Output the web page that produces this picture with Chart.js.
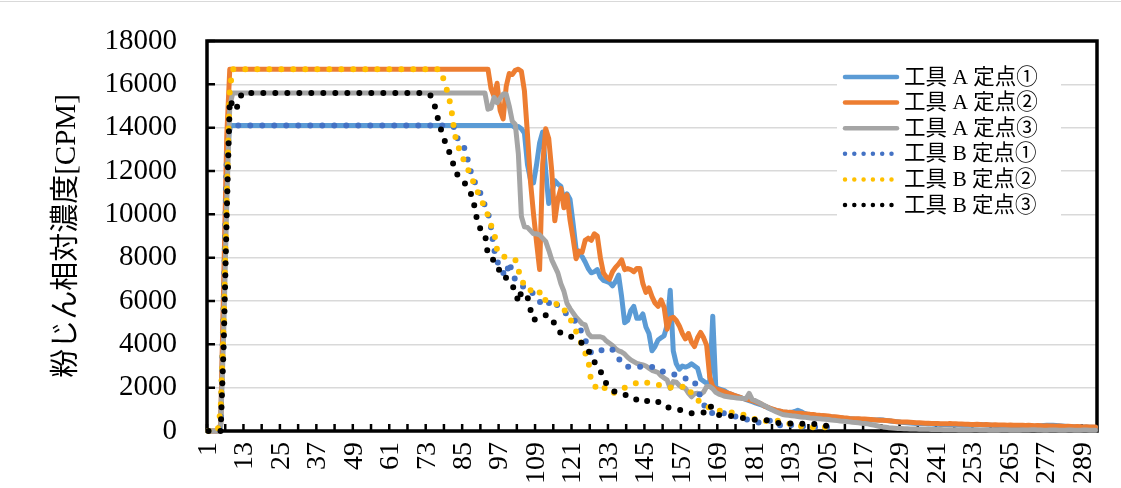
<!DOCTYPE html>
<html><head><meta charset="utf-8">
<script src="https://cdn.jsdelivr.net/npm/chart.js@4.4.1/dist/chart.umd.min.js"></script>
<style>
html,body{margin:0;padding:0;background:#fff;}
#wrap{position:relative;width:1121px;height:488px;overflow:hidden;background:#fff;}
#topline{position:absolute;left:0;top:1px;width:1121px;height:0;border-top:1.5px solid #d9d9d9;}
canvas{position:absolute;left:0;top:0;}
</style></head><body>
<div id="wrap"><canvas id="c" width="1121" height="488"></canvas><div id="topline"></div></div>
<script>
// ---- data ----
const categories = [];
for (let i = 1; i <= 293; i++) categories.push(String(i));
const xTickLabels = ['1','13','25','37','49','61','73','85','97','109','121','133','145','157','169','181','193','205','217','229','241','253','265','277','289'];
const yMin = 0, yMax = 18000, yStep = 2000;
const yTitle = '粉じん相対濃度[CPM]';
const seriesNames = ['工具 A 定点①','工具 A 定点②','工具 A 定点③','工具 B 定点①','工具 B 定点②','工具 B 定点③'];

const toolA1 = [
0,0,0,0,300,6000,12500,14100,14100,14100,
14100,14100,14100,14100,14100,14100,14100,14100,14100,14100,
14100,14100,14100,14100,14100,14100,14100,14100,14100,14100,
14100,14100,14100,14100,14100,14100,14100,14100,14100,14100,
14100,14100,14100,14100,14100,14100,14100,14100,14100,14100,
14100,14100,14100,14100,14100,14100,14100,14100,14100,14100,
14100,14100,14100,14100,14100,14100,14100,14100,14100,14100,
14100,14100,14100,14100,14100,14100,14100,14100,14100,14100,
14100,14100,14100,14100,14100,14100,14100,14100,14100,14100,
14100,14100,14100,14100,14100,14100,14100,14100,14100,14100,
14100,14000,14050,13950,13750,12300,11600,11450,12300,13300,
13800,12000,10500,11000,11550,11400,11300,10600,10950,10700,
9600,8400,8200,8050,7800,7500,7300,7350,7450,7100,
6950,6900,6850,6700,6900,7200,6200,5000,5100,5550,
5750,5200,5200,5400,4800,4500,3700,3900,4200,4300,
4400,4900,6500,3700,3100,2850,3000,2950,3000,3100,
3000,2900,2400,2300,2200,2250,5300,2000,1950,1900,
1850,1750,1700,1650,1600,1550,1500,1450,1400,1350,
1300,1250,1200,1150,1080,1020,980,940,910,880,
860,850,860,900,960,900,820,780,760,740,
720,700,690,680,660,650,640,620,600,590,
570,560,550,540,540,530,530,520,520,510,
510,520,510,490,470,450,440,420,400,390,
380,370,360,350,340,330,330,320,320,310,
310,300,300,300,290,290,280,280,270,260,
260,270,280,290,300,290,280,270,260,250,
250,240,240,230,230,220,220,210,210,200,
200,210,220,230,240,250,260,270,260,250,
240,230,220,210,200,200,190,190,180,180,
170,170,160];

const toolA2 = [
0,0,0,0,300,6900,13600,16700,16700,16700,
16700,16700,16700,16700,16700,16700,16700,16700,16700,16700,
16700,16700,16700,16700,16700,16700,16700,16700,16700,16700,
16700,16700,16700,16700,16700,16700,16700,16700,16700,16700,
16700,16700,16700,16700,16700,16700,16700,16700,16700,16700,
16700,16700,16700,16700,16700,16700,16700,16700,16700,16700,
16700,16700,16700,16700,16700,16700,16700,16700,16700,16700,
16700,16700,16700,16700,16700,16700,16700,16700,16700,16700,
16700,16700,16700,16700,16700,16700,16700,16700,16700,16700,
16700,16700,16700,15800,15450,16050,14800,14400,15900,16500,
16450,16650,16700,16600,15700,13700,11500,10000,8700,7450,
12300,13950,13500,12000,9700,10700,11200,10300,10900,9750,
8900,7950,8300,8250,8800,8900,8800,9100,9000,8000,
7300,7100,7000,7350,7550,7700,7900,7450,7500,7450,
7350,7500,7500,6800,6400,6600,6200,5900,5750,6050,
5700,4700,5200,5250,5100,4850,4500,4250,4500,4100,
3900,4300,4550,4300,3950,2500,2050,1950,1900,1850,
1800,1750,1700,1650,1600,1550,1500,1480,1440,1400,
1350,1300,1250,1150,1100,1050,1000,950,920,890,
880,860,850,830,820,820,800,790,770,760,
740,730,710,700,690,670,660,650,630,610,
600,580,570,560,560,550,550,540,530,520,
510,500,500,480,470,460,440,430,420,420,
410,400,390,380,380,370,360,360,350,350,
350,340,340,330,350,340,330,320,320,310,
310,300,300,310,300,290,300,290,280,290,
280,280,280,270,280,270,260,270,260,250,
260,250,240,250,240,230,240,230,230,220,
230,220,210,220,210,200,210,200,190,200,
190,180,180];

const toolA3 = [
0,0,0,0,200,4500,10500,15000,15600,15600,
15600,15600,15600,15600,15600,15600,15600,15600,15600,15600,
15600,15600,15600,15600,15600,15600,15600,15600,15600,15600,
15600,15600,15600,15600,15600,15600,15600,15600,15600,15600,
15600,15600,15600,15600,15600,15600,15600,15600,15600,15600,
15600,15600,15600,15600,15600,15600,15600,15600,15600,15600,
15600,15600,15600,15600,15600,15600,15600,15600,15600,15600,
15600,15600,15600,15600,15600,15600,15600,15600,15600,15600,
15600,15600,15600,15600,15600,15600,15600,15600,15600,15600,
15600,15600,14850,14900,15400,15150,15350,15550,15550,15000,
14300,14150,12800,9900,9430,9400,9250,9100,9100,9050,
8900,8750,8350,7900,7600,7300,6800,6450,5900,5650,
5450,5250,5100,4950,4900,4500,4350,4350,4350,4350,
4300,4150,4050,3950,3800,3700,3650,3550,3400,3280,
3200,3120,3080,3050,3000,2900,2800,2750,2700,2550,
2450,2350,1970,2280,2250,2100,2000,1970,1750,1580,
1720,1740,1700,1800,2050,2050,1950,1780,1700,1650,
1600,1580,1560,1540,1520,1510,1500,1500,1740,1450,
1400,1330,1250,1180,1100,1020,950,880,820,760,
740,720,700,690,670,650,640,620,600,590,
580,570,550,540,530,510,500,480,460,450,
440,420,400,390,380,360,350,330,300,270,
240,210,190,170,150,140,130,120,110,100,
100,90,90,90,80,80,80,80,70,70,
70,70,60,60,60,60,60,50,50,50,
50,50,60,60,50,50,50,40,40,40,
40,50,50,50,40,40,40,40,50,50,
50,60,60,50,50,40,40,50,50,50,
40,40,40,50,50,40,40,40,50,50,
40,40,40];

const toolB1 = [
0,0,0,0,300,6000,12500,14100,14100,14100,
14100,14100,14100,14100,14100,14100,14100,14100,14100,14100,
14100,14100,14100,14100,14100,14100,14100,14100,14100,14100,
14100,14100,14100,14100,14100,14100,14100,14100,14100,14100,
14100,14100,14100,14100,14100,14100,14100,14100,14100,14100,
14100,14100,14100,14100,14100,14100,14100,14100,14100,14100,
14100,14100,14100,14100,14100,14100,14100,14100,14100,14100,
14100,14100,14100,14100,14100,14100,14100,14100,14100,14100,
14100,14000,13500,13300,13150,12700,12150,11650,11400,11150,
10800,10400,10100,9400,8400,7850,7550,7300,7150,7800,
7300,6970,6900,6700,6650,6600,6500,6300,6050,5970,
5850,5750,5900,6050,6000,5750,5600,5500,5400,5350,
5200,5000,4900,4450,4200,3900,3600,3600,3700,3740,
3700,3780,3820,3750,3500,3350,3150,3000,2970,2960,
2970,2980,2970,2960,2970,2970,2960,2950,2900,2800,
2700,2680,2660,2620,2580,2520,2460,2420,2420,2400,
2300,1850,1600,1250,950,820,840,860,880,850,
800,770,740,700,640,590,560,540,520,500,
450,400,360,350,420,480,500,400,280,180,
200,240,280,260,240,230,220,210,200,190,
190,200,200,200,180,150];

const toolB2 = [
0,0,0,0,1000,5000,11000,15800,16700,16700,
16700,16700,16700,16700,16700,16700,16700,16700,16700,16700,
16700,16700,16700,16700,16700,16700,16700,16700,16700,16700,
16700,16700,16700,16700,16700,16700,16700,16700,16700,16700,
16700,16700,16700,16700,16700,16700,16700,16700,16700,16700,
16700,16700,16700,16700,16700,16700,16700,16700,16700,16700,
16700,16700,16700,16700,16700,16700,16700,16700,16700,16700,
16700,16700,16700,16700,16700,16700,16700,16400,15950,15500,
14800,13750,13150,12900,12500,12200,11900,11550,11250,10890,
10600,10300,9950,9500,9200,8350,8100,8040,8040,8000,
7950,7900,7450,6900,6800,6800,6500,6300,6400,6400,
6000,6050,6000,5950,5860,5860,5860,5600,5450,5200,
4900,4600,4300,3950,3600,3300,2250,2050,2030,2150,
2100,1800,1770,1770,1770,1820,1900,2000,2080,2140,
2170,2220,2270,2300,2250,2200,2160,2150,2130,2110,
2080,2050,2010,1990,2000,2020,2040,2050,2050,1700,
1500,1420,1350,1270,1170,1050,980,960,940,920,
900,880,860,840,820,790,750,710,690,620,
540,470,430,450,480,500,510,490,460,430,
400,350,300,280,250,220,190,170,170,170,
170,170,170,170,170,170];

const toolB3 = [
0,0,0,0,0,4000,10000,15300,15000,14800,
15200,15600,15600,15600,15600,15600,15600,15600,15600,15600,
15600,15600,15600,15600,15600,15600,15600,15600,15600,15600,
15600,15600,15600,15600,15600,15600,15600,15600,15600,15600,
15600,15600,15600,15600,15600,15600,15600,15600,15600,15600,
15600,15600,15600,15600,15600,15600,15600,15600,15600,15600,
15600,15600,15600,15600,15600,15600,15600,15600,15600,15600,
15600,15600,15600,15500,15300,14700,14150,13700,13300,12950,
12630,12080,11810,11650,11550,11250,11040,10800,10000,9430,
9250,9120,8100,7950,7890,7600,7350,7350,7050,6850,
6700,6470,5950,6430,6300,6200,5600,5120,5200,5300,
5320,5340,5350,5150,4940,4700,4500,4450,4400,4380,
4300,4250,4180,4050,3950,3750,3400,3200,3000,2800,
2350,2200,2050,1900,1780,1730,1700,1690,1600,1500,
1440,1460,1510,1520,1420,1330,1270,1300,1340,1340,
1240,1120,1050,1030,1000,980,960,920,870,820,
820,820,820,850,1050,1200,1000,800,740,720,
710,700,690,670,640,620,600,580,560,530,
520,510,510,510,490,440,400,380,370,360,
350,350,340,330,320,330,340,350,340,330,
320,320,300,260,200,170];

const seriesData = [toolA1, toolA2, toolA3, toolB1, toolB2, toolB3];
const seriesColors = ['#5B9BD5','#ED7D31','#A5A5A5','#4472C4','#FFC000','#000000'];
const seriesDotted = [false, false, false, true, true, true];

const FONT = "'Liberation Serif', 'Noto Sans CJK JP', serif";

const framePlugin = {
  id: 'frame',
  beforeDatasetsDraw(chart) {
    const {ctx, chartArea: a, scales: {x, y}} = chart;
    ctx.save();
    ctx.strokeStyle = '#000';
    ctx.lineWidth = 2.5;
    const slot = x.getPixelForValue(1) - x.getPixelForValue(0);
    const start = x.getPixelForValue(0) - slot / 2;
    ctx.beginPath();
    for (let k = 0; k <= categories.length; k += 6) {
      const px = start + k * slot;
      ctx.moveTo(px, a.bottom);
      ctx.lineTo(px, a.bottom - 7);
    }
    y.ticks.forEach(t => {
      const py = y.getPixelForValue(t.value);
      ctx.moveTo(a.left, py);
      ctx.lineTo(a.left + 8, py);
    });
    ctx.stroke();
    ctx.lineWidth = 3.5;
    ctx.strokeRect(a.left, a.top, a.right - a.left, a.bottom - a.top);
    ctx.restore();
  }
};

const legendPlugin = {
  id: 'boxLegend',
  afterDatasetsDraw(chart) {
    const ctx = chart.ctx;
    const a = chart.chartArea;
    const lx = a.right - 254, ly = a.top + 20;
    ctx.save();
    ctx.fillStyle = '#fff';
    ctx.fillRect(lx - 6, ly, 224, 158);
    chart.data.datasets.forEach((ds, i) => {
      const yy = ly + 16 + i * 25.6;
      ctx.strokeStyle = ds.borderColor;
      ctx.lineCap = 'round';
      ctx.lineWidth = 4.5;
      ctx.setLineDash(seriesDotted[i] ? [0, 9.3] : []);
      ctx.beginPath();
      ctx.moveTo(lx + 2, yy);
      ctx.lineTo(lx + 54, yy);
      ctx.stroke();
      ctx.setLineDash([]);
      ctx.fillStyle = '#000';
      ctx.font = '21.5px ' + FONT;
      ctx.textBaseline = 'middle';
      ctx.textAlign = 'left';
      ctx.fillText(ds.label, lx + 61, yy + 1);
    });
    ctx.restore();
  }
};

new Chart(document.getElementById('c'), {
  type: 'line',
  data: {
    labels: categories,
    datasets: seriesData.map((d, i) => ({
      label: seriesNames[i],
      data: d,
      borderColor: seriesColors[i],
      backgroundColor: seriesColors[i],
      borderWidth: seriesDotted[i] ? 6 : 5,
      borderDash: seriesDotted[i] ? [0, 12] : [],
      borderCapStyle: 'round',
      borderJoinStyle: 'round',
      pointRadius: 0,
      tension: 0,
      fill: false,
      spanGaps: false,
      order: 6 - i,
      clip: 8
    }))
  },
  options: {
    responsive: false,
    animation: false,
    devicePixelRatio: 1,
    layout: { padding: { top: 41, right: 24, left: 0, bottom: 0 } },
    plugins: { legend: { display: false }, tooltip: { enabled: false } },
    scales: {
      x: {
        type: 'category',
        offset: true,
        grid: { display: false, drawTicks: false },
        border: { display: false },
        ticks: {
          autoSkip: false, maxRotation: 90, minRotation: 90, padding: 11,
          color: '#000', font: { family: FONT, size: 28 },
          callback: (v, i) => xTickLabels.includes(categories[i]) ? categories[i] : ''
        },
        afterFit: s => { s.height = 57; s.paddingLeft = 0; s.paddingRight = 0; }
      },
      y: {
        min: yMin, max: yMax,
        grid: { color: '#d9d9d9', lineWidth: 1.5, drawTicks: false },
        border: { display: false },
        ticks: { stepSize: yStep, padding: 30, color: '#000', font: { family: FONT, size: 29 },
                 callback: v => String(v) },
        title: { display: true, text: yTitle, color: '#000', font: { family: FONT, size: 29 },
                 padding: { top: 50, bottom: 0 } },
        afterFit: s => { s.width = 207; s.paddingTop = 0; s.paddingBottom = 0; }
      }
    }
  },
  plugins: [framePlugin, legendPlugin]
});
</script>
</body></html>
